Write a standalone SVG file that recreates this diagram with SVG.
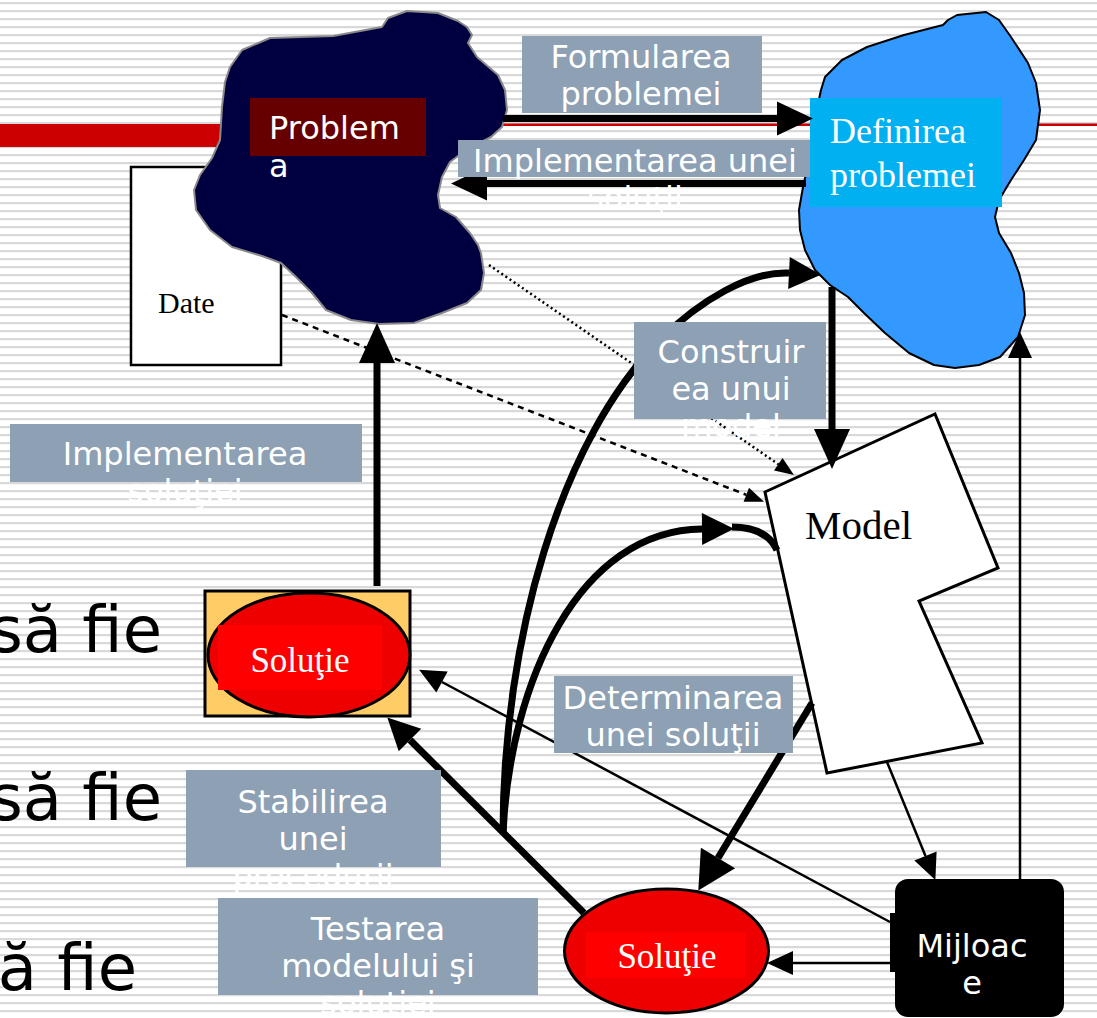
<svg xmlns="http://www.w3.org/2000/svg" width="1097" height="1018" viewBox="0 0 1097 1018">
  <defs>
    <pattern id="stripes" x="0" y="0" width="8" height="8" patternUnits="userSpaceOnUse">
      <rect x="0" y="0" width="8" height="8" fill="#ffffff"/>
      <rect x="0" y="2" width="8" height="2.2" fill="#d9d9d9"/>
    </pattern>
    <!-- arrowheads: base sits on the path end, tip points forward -->
    <marker id="ahThick" markerUnits="userSpaceOnUse" markerWidth="36" markerHeight="34" refX="0" refY="17" orient="auto" overflow="visible">
      <path d="M0,0 L36,17 L0,34 Z" fill="#000"/>
    </marker>
    <marker id="ahUp" markerUnits="userSpaceOnUse" markerWidth="40" markerHeight="36" refX="0" refY="18" orient="auto" overflow="visible">
      <path d="M0,0 L40,18 L0,36 Z" fill="#000"/>
    </marker>
    <marker id="ahWide" markerUnits="userSpaceOnUse" markerWidth="38" markerHeight="40" refX="0" refY="20" orient="auto" overflow="visible">
      <path d="M0,0 L38,20 L0,40 Z" fill="#000"/>
    </marker>
    <marker id="ahCurve" markerUnits="userSpaceOnUse" markerWidth="32" markerHeight="32" refX="0" refY="16" orient="auto" overflow="visible">
      <path d="M0,0 L32,16 L0,32 Z" fill="#000"/>
    </marker>
    <marker id="ahThin" markerUnits="userSpaceOnUse" markerWidth="26" markerHeight="24" refX="0" refY="12" orient="auto" overflow="visible">
      <path d="M0,0 L26,12 L0,24 Z" fill="#000"/>
    </marker>
    <marker id="ahDot" markerUnits="userSpaceOnUse" markerWidth="19" markerHeight="15" refX="0" refY="7.5" orient="auto" overflow="visible">
      <path d="M0,0 L19,7.5 L0,15 Z" fill="#000"/>
    </marker>
  </defs>
  <style>
    .lbl { font-family: "DejaVu Sans", "Noto Sans", sans-serif; font-size: 32px; fill: #ffffff; text-anchor: middle; }
    .lblbox { fill: #8da0b4; }
    .serif { font-family: "Liberation Serif", "DejaVu Serif", serif; }
    .big { font-family: "DejaVu Sans", "Noto Sans", sans-serif; font-size: 64px; fill: #000; text-anchor: end; }
    .thick { fill: none; stroke: #000; stroke-width: 7; }
    .thin { fill: none; stroke: #000; stroke-width: 2.5; }
  </style>

  <!-- slide background -->
  <rect x="0" y="0" width="1097" height="1018" fill="url(#stripes)"/>
  <rect x="0" y="124" width="240" height="23" fill="#cc0000"/>
  <rect x="230" y="123.5" width="867" height="2.5" fill="#cc0000"/>
  <text class="big" x="162" y="652">să fie</text>
  <text class="big" x="162" y="820">să fie</text>
  <text class="big" x="137" y="990">ă fie</text>

  <g id="node-date">
    <rect x="131" y="167" width="150" height="198" fill="#ffffff" stroke="#000" stroke-width="2.5"/>
    <text class="serif" x="158" y="313" font-size="30" fill="#000">Date</text>
  </g>

  <g id="node-problema">
    <polygon fill="#000040" stroke="#8a8a8a" stroke-width="2" stroke-linejoin="round"
      points="407,11 438,13 458,21 467,27 472,35 468,43 477,57 498,75 505,90 507,110 502,127 491,137 466,150 450,162 442,177 438,195 440,208 456,217 470,233 478,245 481,253 484,273 481,290 467,303 442,313 414,323 379,324 351,320 326,310 312,293 296,277 281,263 262,256 232,247 210,230 196,210 194,190 200,175 212,158 220,140 222,107 225,82 230,67 242,50 270,38 333,36 382,27 388,18"/>
    <rect x="250" y="98" width="176" height="58" fill="#660000"/>
    <text class="lbl" x="269" y="139" style="text-anchor:start">Problem</text>
    <text class="lbl" x="269" y="177" style="text-anchor:start">a</text>
  </g>

  <g id="node-definirea">
    <polygon fill="#3399ff" stroke="#000" stroke-width="2" stroke-linejoin="round"
      points="957,15 986,12 999,20 1011,37 1028,63 1036,83 1040,110 1036,140 1024,160 1011,180 999,200 995,217 999,233 1011,253 1019,273 1024,293 1025,315 1018,337 1000,357 979,365 955,368 934,365 909,353 885,333 864,313 848,297 830,285 815,270 805,250 800,230 799,210 803,187 809,160 813,127 821,90 825,77 842,60 867,47 904,35 943,25 948,20"/>
    <rect x="810" y="98" width="192" height="109" fill="#00b0f0"/>
    <text class="serif" x="830" y="143" font-size="36" fill="#ffffff">Definirea</text>
    <text class="serif" x="830" y="187" font-size="36" fill="#ffffff">problemei</text>
  </g>

  <g id="node-model">
    <polygon points="765,492 935,414 998,568 919,601 982,743 827,773" fill="#ffffff" stroke="#000" stroke-width="3" stroke-linejoin="miter"/>
    <text class="serif" x="805" y="539" font-size="41" fill="#000">Model</text>
  </g>

  <g id="node-solutie-sus">
    <rect x="205" y="591" width="205" height="125" fill="#ffcc66" stroke="#000" stroke-width="3"/>
    <ellipse cx="309" cy="655" rx="101" ry="62" fill="#ee0000" stroke="#000" stroke-width="3"/>
    <rect x="218" y="625" width="164" height="65" fill="#ff0000"/>
    <text class="serif" x="300" y="672" font-size="35" fill="#ffffff" text-anchor="middle">Soluţie</text>
  </g>

  <g id="node-solutie-jos">
    <ellipse cx="666.5" cy="951" rx="102" ry="62" fill="#ee0000" stroke="#000" stroke-width="3"/>
    <rect x="586" y="932" width="160" height="46" fill="#ff0000"/>
    <text class="serif" x="667" y="968" font-size="35" fill="#ffffff" text-anchor="middle">Soluţie</text>
  </g>

  <g id="node-mijloace">
    <rect x="890" y="913" width="8" height="59" fill="#000"/>
    <rect x="895" y="879" width="169" height="138" rx="13" fill="#000"/>
    <text class="lbl" x="972" y="957">Mijloac</text>
    <text class="lbl" x="972" y="994">e</text>
  </g>

  <g id="connectors">
    <path class="thick" d="M503,118.5 H777" marker-end="url(#ahThick)"/>
    <path class="thick" d="M806,183.5 H487" marker-end="url(#ahThick)"/>
    <path class="thick" d="M832,287 V429" marker-end="url(#ahUp)"/>
    <path class="thick" d="M377,586 V363" marker-end="url(#ahUp)"/>
    <path class="thick" d="M584,913 L410,740" stroke-width="6.5" marker-end="url(#ahCurve)"/>
    <path class="thick" d="M812,703 L718,858" stroke-width="8" marker-end="url(#ahWide)"/>
    <path class="thick" d="M503,833 C503,640 560,440 660,340 C700,300 750,271 789,273" stroke-width="5" marker-end="url(#ahCurve)"/>
    <path class="thick" d="M503,833 C510,680 580,530 702,529" stroke-width="6" marker-end="url(#ahCurve)"/>
    <path class="thick" d="M732,527 C755,527 770,535 777,550" stroke-width="6"/>
    <path class="thin" d="M887,762 L925.5,856" marker-end="url(#ahThin)"/>
    <path class="thin" d="M1020,879 V358" stroke-width="3" marker-end="url(#ahThin)"/>
    <path class="thin" d="M890,922 L442,682" stroke-width="1.8" marker-end="url(#ahThin)"/>
    <path class="thin" d="M890,963 H793" stroke-width="3" marker-end="url(#ahThin)"/>
    <path class="thin" d="M489,265 L778.3,464.2" stroke-width="1.3" stroke-dasharray="2 3" marker-end="url(#ahDot)"/>
    <path class="thin" d="M282,315 L746.3,494.8" stroke-width="1.5" stroke-dasharray="6 5" marker-end="url(#ahDot)"/>
  </g>

  <g id="edge-labels">
    <rect class="lblbox" x="522" y="36" width="240" height="77"/>
    <text class="lbl" x="641" y="68">Formularea</text>
    <text class="lbl" x="641" y="105">problemei</text>

    <rect class="lblbox" x="458" y="140" width="352" height="37"/>
    <text class="lbl" x="635" y="172">Implementarea unei</text>
    <text class="lbl" x="635" y="209">soluţii</text>

    <rect class="lblbox" x="634" y="322" width="192" height="97"/>
    <text class="lbl" x="731" y="363">Construir</text>
    <text class="lbl" x="731" y="400">ea unui</text>
    <text class="lbl" x="731" y="437">model</text>

    <rect class="lblbox" x="10" y="424" width="352" height="58"/>
    <text class="lbl" x="185" y="465">Implementarea</text>
    <text class="lbl" x="185" y="502">soluţiei</text>

    <rect class="lblbox" x="554" y="676" width="239" height="77"/>
    <text class="lbl" x="673" y="709">Determinarea</text>
    <text class="lbl" x="673" y="746">unei soluţii</text>

    <rect class="lblbox" x="186" y="770" width="255" height="97"/>
    <text class="lbl" x="313" y="813">Stabilirea</text>
    <text class="lbl" x="313" y="850">unei</text>
    <text class="lbl" x="313" y="887">procedurii</text>

    <rect class="lblbox" x="218" y="898" width="320" height="97"/>
    <text class="lbl" x="378" y="940">Testarea</text>
    <text class="lbl" x="378" y="977">modelului şi</text>
    <text class="lbl" x="378" y="1014">soluţiei</text>
  </g>
</svg>
